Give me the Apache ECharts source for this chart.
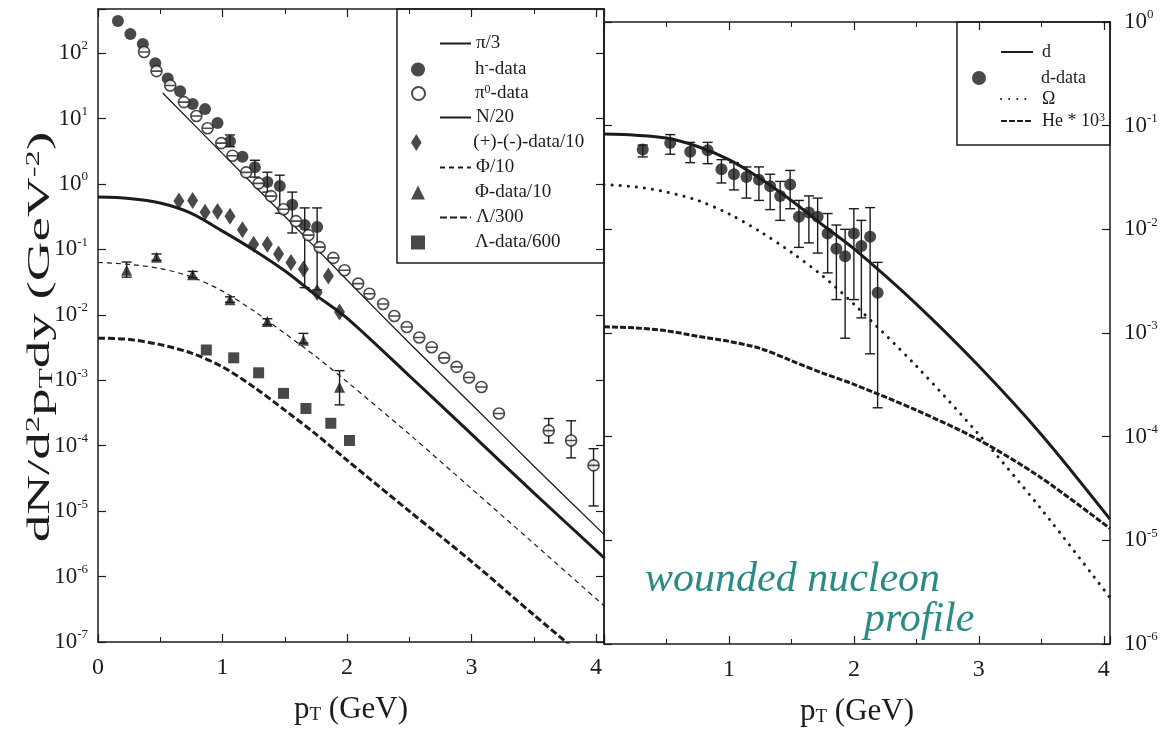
<!DOCTYPE html>
<html>
<head>
<meta charset="utf-8">
<title>pT spectra - wounded nucleon profile</title>
<script src="https://cdn.jsdelivr.net/npm/echarts@6/dist/echarts.min.js"></script>
<style>
    html, body { margin: 0; padding: 0; background: #fff; }
    #chart { width: 1163px; height: 732px; }
</style>
</head>
<body>
<div id="chart"></div>
<script>
// ---------------------------------------------------------------
//  Data: [pT (GeV), dN/d2pTdy]
// ---------------------------------------------------------------

// left panel, model curves
var piThirdCurve = [[0.52, 24.5], [1.0, 2.9], [1.5, 0.32], [2.0, 0.034], [2.5, 0.0037],
    [3.0, 4.3e-4], [3.5, 4.9e-5], [4.07, 4.3e-6]];
var nucleonCurve = [[0, 0.63], [0.25, 0.60], [0.5, 0.51], [0.75, 0.355], [1.0, 0.19], [1.25, 0.098],
    [1.5, 0.047], [1.75, 0.020], [2.0, 0.0089], [2.5, 0.00117], [3.0, 1.5e-4], [3.5, 1.9e-5], [4.07, 1.9e-6]];
var phiCurve = [[0, 0.063], [0.25, 0.059], [0.5, 0.051], [0.75, 0.038], [1.0, 0.023], [1.25, 0.0115],
    [1.5, 0.0052], [1.75, 0.0023], [2.0, 9.5e-4], [2.5, 1.5e-4], [3.0, 2.2e-5], [3.5, 3.2e-6], [4.07, 3.5e-7]];
var lambdaCurve = [[0, 0.0044], [0.25, 0.0042], [0.5, 0.0035], [0.75, 0.0026], [1.0, 0.0016], [1.25, 7.9e-4],
    [1.5, 3.5e-4], [1.75, 1.5e-4], [2.0, 6.0e-5], [2.5, 1.0e-5], [3.0, 1.7e-6], [3.5, 2.6e-7], [4.07, 3.2e-8]];

// left panel, measured points
var hMinusData = [[0.16, 310], [0.26, 195], [0.36, 137], [0.46, 70], [0.56, 41], [0.66, 26], [0.76, 16.6],
    [0.86, 13.9], [0.96, 8.5], [1.06, 4.5], [1.16, 2.6], [1.26, 1.8], [1.36, 1.07], [1.46, 0.93],
    [1.56, 0.48], [1.66, 0.235], [1.76, 0.22]];
var hMinusErrors = [[1.06, 3.7, 5.6], [1.26, 1.27, 2.3], [1.36, 0.75, 1.51], [1.46, 0.357, 1.36],
    [1.56, 0.178, 0.75], [1.66, 0.026, 0.43], [1.76, 0.024, 0.43]];
var piZeroData = [[0.37, 104], [0.47, 53], [0.58, 32], [0.69, 17.8], [0.79, 10.9], [0.88, 7.1], [0.99, 4.2],
    [1.08, 2.7], [1.19, 1.5], [1.29, 1.02], [1.39, 0.65], [1.49, 0.41], [1.59, 0.27], [1.69, 0.165],
    [1.78, 0.108], [1.89, 0.074], [1.98, 0.048], [2.09, 0.030], [2.18, 0.021], [2.29, 0.0146],
    [2.38, 0.0096], [2.48, 0.0065], [2.58, 0.0045], [2.68, 0.0032], [2.78, 0.0022], [2.88, 0.0016],
    [2.98, 0.0011], [3.08, 7.9e-4], [3.22, 3.1e-4], [3.62, 1.7e-4], [3.80, 1.2e-4], [3.98, 5e-5]];
var piZeroErrors = [[3.62, 1.1e-4, 2.6e-4], [3.80, 6.5e-5, 2.4e-4], [3.98, 1.2e-5, 9e-5]];
var chargeDiffData = [[0.65, 0.55], [0.76, 0.56], [0.86, 0.37], [0.96, 0.38], [1.06, 0.32], [1.16, 0.20],
    [1.25, 0.12], [1.36, 0.12], [1.45, 0.085], [1.55, 0.063], [1.65, 0.050], [1.76, 0.022],
    [1.85, 0.039], [1.94, 0.011]];
var phiData = [[0.23, 0.048], [0.47, 0.076], [0.76, 0.041], [1.06, 0.017], [1.36, 0.0079], [1.65, 0.0041],
    [1.94, 7.8e-4]];
var phiErrors = [[0.23, 0.0376, 0.064], [0.47, 0.068, 0.085], [0.76, 0.037, 0.046], [1.06, 0.0155, 0.0188],
    [1.36, 0.0071, 0.0087], [1.65, 0.0037, 0.0052], [1.94, 4.2e-4, 0.0014]];
var lambdaData = [[0.87, 0.0029], [1.09, 0.0022], [1.29, 0.0013], [1.49, 6.3e-4], [1.67, 3.7e-4],
    [1.87, 2.2e-4], [2.02, 1.2e-4]];

// right panel, model curves
var deuteronCurve = [[0, 0.083], [0.25, 0.081], [0.5, 0.076], [0.75, 0.063], [1.0, 0.047], [1.25, 0.031],
    [1.5, 0.019], [1.75, 0.011], [2.0, 0.0065], [2.5, 0.0019], [3.0, 4.8e-4], [3.5, 1.05e-4], [4.05, 1.6e-5]];
var omegaCurve = [[0, 0.027], [0.25, 0.0257], [0.5, 0.0229], [0.75, 0.019], [1.0, 0.0141], [1.25, 0.0095],
    [1.5, 0.006], [1.75, 0.00355], [2.0, 0.0019], [2.5, 4.8e-4], [3.0, 1.05e-4], [3.5, 2.0e-5], [4.05, 2.8e-6]];
var heliumCurve = [[0, 0.00115], [0.25, 0.00112], [0.5, 0.00105], [0.75, 9.3e-4], [1.0, 8.3e-4], [1.25, 7.1e-4],
    [1.5, 5.4e-4], [1.75, 4.1e-4], [2.0, 3.2e-4], [2.5, 1.8e-4], [3.0, 9.3e-5], [3.5, 4.0e-5], [4.05, 1.3e-5]];

// right panel, measured deuterons and their error bars [pT, low, high]
var deuteronData = [[0.31, 0.059], [0.53, 0.068], [0.69, 0.056], [0.83, 0.058], [0.94, 0.038], [1.04, 0.034],
    [1.14, 0.032], [1.24, 0.030], [1.33, 0.026], [1.41, 0.021], [1.49, 0.027], [1.56, 0.0132], [1.64, 0.0145],
    [1.71, 0.0132], [1.79, 0.0091], [1.86, 0.0065], [1.93, 0.0055], [2.0, 0.0091], [2.06, 0.0069],
    [2.13, 0.0085], [2.19, 0.00245]];
var deuteronErrors = [[0.31, 0.050, 0.065], [0.53, 0.053, 0.082], [0.69, 0.044, 0.069], [0.83, 0.043, 0.069],
    [0.94, 0.028, 0.047], [1.04, 0.024, 0.044], [1.14, 0.020, 0.040], [1.24, 0.019, 0.040], [1.33, 0.0155, 0.034],
    [1.41, 0.0122, 0.029], [1.49, 0.0158, 0.037], [1.56, 0.0067, 0.019], [1.64, 0.0074, 0.021],
    [1.71, 0.0059, 0.020], [1.79, 0.0038, 0.0142], [1.86, 0.0021, 0.0110], [1.93, 8.9e-4, 0.0100],
    [2.0, 0.0021, 0.0158], [2.06, 0.0014, 0.0122], [2.13, 6.3e-4, 0.0162], [2.19, 1.9e-4, 0.0048]];

// axis ranges
var leftXMax = 4.064, rightXMax = 4.05;
var leftYMin = 1e-7, leftYMax = 471;
var rightYMin = 1e-6, rightYMax = 1;

// ---------------------------------------------------------------
//  Styling helpers
// ---------------------------------------------------------------
var FONT = 'Liberation Serif';
var INK = '#1c1c1c';

var powRich = {
    b: { fontFamily: FONT, fontSize: 23, color: INK, lineHeight: 27 },
    s: { fontFamily: FONT, fontSize: 13, color: INK, lineHeight: 13, verticalAlign: 'top' }
};

function powerLabel(v) {
    var e = Math.log(v) / Math.LN10;
    var r = Math.round(e);
    if (Math.abs(e - r) > 1e-6) {
        return '';
    }
    return '{b|10}{s|' + r + '}';
}

function intLabel(skipZero) {
    return function (v) {
        if (Math.abs(v - Math.round(v)) > 1e-9) return '';
        if (skipZero && v === 0) return '';
        return String(Math.round(v));
    };
}

function xAxisDef(grid, pos, max, withLabels, skipZero) {
    return {
        type: 'value', gridIndex: grid, position: pos, min: 0, max: max, interval: 1,
        axisLine: { show: true, onZero: false, lineStyle: { color: INK, width: 1.5 } },
        axisTick: { show: true, inside: true, length: 8, lineStyle: { color: INK, width: 1.2 } },
        minorTick: { show: true, splitNumber: 2, length: 5, lineStyle: { color: INK, width: 1 } },
        axisLabel: {
            show: withLabels, margin: 14, formatter: intLabel(skipZero),
            fontFamily: FONT, fontSize: 24, color: INK
        },
        splitLine: { show: false },
        name: withLabels ? 'p{sub|T} (GeV)' : '',
        nameLocation: 'middle', nameGap: 52,
        nameTextStyle: {
            fontFamily: FONT, fontSize: 31, color: INK,
            rich: {
                sub: { fontFamily: FONT, fontSize: 19, color: INK, verticalAlign: 'bottom', lineHeight: 19 }
            }
        }
    };
}

function yAxisDef(grid, pos, min, max, withLabels, margin) {
    return {
        type: 'log', gridIndex: grid, position: pos, min: min, max: max, logBase: 10, splitNumber: 10,
        axisLine: { show: true, onZero: false, lineStyle: { color: INK, width: 1.5 } },
        axisTick: { show: true, inside: true, length: 8, lineStyle: { color: INK, width: 1.2 } },
        axisLabel: { show: withLabels, margin: margin, formatter: powerLabel, rich: powRich },
        splitLine: { show: false }
    };
}

function lineSeries(name, data, xi, yi, width, dash, cap) {
    return {
        name: name, type: 'line', xAxisIndex: xi, yAxisIndex: yi, data: data,
        smooth: 0.3, symbol: 'none', showSymbol: false, z: 3,
        lineStyle: { color: INK, width: width, type: dash, cap: cap || 'butt' },
        itemStyle: { color: INK }
    };
}

function scatterSeries(name, data, xi, yi, symbol, size, hollow) {
    return {
        name: name, type: 'scatter', xAxisIndex: xi, yAxisIndex: yi, data: data,
        symbol: symbol, symbolSize: size, z: 4,
        itemStyle: hollow ? { color: '#fff', borderColor: INK, borderWidth: 1.6 } : { color: INK }
    };
}

function errorBarSeries(data, xi, yi, cap) {
    return {
        type: 'custom', xAxisIndex: xi, yAxisIndex: yi, data: data, z: 2,
        encode: { x: 0, y: [1, 2] },
        renderItem: function (params, api) {
            var lo = api.coord([api.value(0), api.value(1)]);
            var hi = api.coord([api.value(0), api.value(2)]);
            var st = { stroke: INK, lineWidth: 1.4 };
            return {
                type: 'group',
                children: [
                    { type: 'line', shape: { x1: lo[0], y1: lo[1], x2: hi[0], y2: hi[1] }, style: st },
                    { type: 'line', shape: { x1: lo[0] - cap, y1: lo[1], x2: lo[0] + cap, y2: lo[1] }, style: st },
                    { type: 'line', shape: { x1: hi[0] - cap, y1: hi[1], x2: hi[0] + cap, y2: hi[1] }, style: st }
                ]
            };
        }
    };
}

// ---------------------------------------------------------------
//  Legends (one component per row so the rows can sit freely)
// ---------------------------------------------------------------
function legendLabel(name) {
    if (name === 'h-data') return 'h{sup|-}-data';
    if (name === 'pi0-data') return 'π{sup|0}-data';
    if (name === 'He') return 'He * 10{sup|3}';
    return name;
}

// [series name, kind, top]
var leftLegendRows = [
    ['π/3', 'line', 34], ['h-data', 'mark', 60], ['pi0-data', 'mark', 84], ['N/20', 'line', 108],
    ['(+)-(-)-data/10', 'mark', 133], ['Φ/10', 'line', 158], ['Φ-data/10', 'mark', 183],
    ['Λ/300', 'line', 208], ['Λ-data/600', 'mark', 233]
];
var rightLegendRows = [
    ['d', 'line', 43], ['d-data', 'mark', 69], ['Ω', 'line', 90], ['He', 'line', 112]
];

// lineLeft/lineWidth: where the line icon sits; markCenter: x of the marker; textX: where text starts
function buildLegends(rows, lineLeft, lineWidth, markCenter, textX, fontSize) {
    return rows.map(function (row) {
        var isLine = row[1] === 'line';
        var markSize = row[0].indexOf('(+)') === 0 ? 17 : 14;
        var gap = isLine ? textX - (lineLeft + lineWidth + 5) : textX - (markCenter + 7 + 5);
        var leg = {
            data: [row[0]], top: row[2],
            left: isLine ? lineLeft : markCenter - 7,
            itemWidth: isLine ? lineWidth : 14,
            itemHeight: isLine ? 14 : markSize,
            selectedMode: false, padding: 0,
            itemStyle: isLine ? { opacity: 0 } : {},
            formatter: function (name) {
                return '{gap| }' + legendLabel(name);
            },
            textStyle: {
                fontFamily: FONT, fontSize: fontSize, color: INK,
                rich: {
                    gap: { width: gap, fontSize: fontSize },
                    sup: { fontFamily: FONT, fontSize: 12, color: INK, verticalAlign: 'top', lineHeight: 12 }
                }
            }
        };
        if (row[0] === 'pi0-data') {
            leg.icon = 'circle';
            leg.itemHeight = 13;
            leg.itemWidth = 13;
        }
        return leg;
    });
}

var legends = buildLegends(leftLegendRows, 439, 31, 418, 475, 19)
    .concat(buildLegends(rightLegendRows, 1000, 32, 979, 1041, 18));

// ---------------------------------------------------------------
//  Chart
// ---------------------------------------------------------------
var chart = echarts.init(document.getElementById('chart'));

var diamondPath = 'path://M5 0L10 8L5 16L0 8Z';
// open circle crossed by its horizontal bin bar
var barredCirclePath = 'path://M0 5A5 5 0 1 0 10 5A5 5 0 1 0 0 5ZM0 5L10 5';

var option = {
    backgroundColor: '#fff',
    animation: false,
    legend: legends,
    grid: [
        { left: 98, top: 9, width: 506, height: 633 },
        { left: 604, top: 22, width: 506, height: 632 }
    ],
    xAxis: [
        xAxisDef(0, 'bottom', leftXMax, true, false),
        xAxisDef(0, 'top', leftXMax, false, false),
        xAxisDef(1, 'bottom', rightXMax, true, true),
        xAxisDef(1, 'top', rightXMax, false, true)
    ],
    yAxis: [
        yAxisDef(0, 'left', leftYMin, leftYMax, true, 10),
        yAxisDef(0, 'right', leftYMin, leftYMax, false, 10),
        yAxisDef(1, 'right', rightYMin, rightYMax, true, 14),
        yAxisDef(1, 'left', rightYMin, rightYMax, false, 10)
    ],
    graphic: [
        // legend frames
        { type: 'rect', shape: { x: 397, y: 9, width: 207, height: 254 },
          style: { fill: 'none', stroke: INK, lineWidth: 1.5 }, z: 10 },
        { type: 'rect', shape: { x: 957, y: 22, width: 153, height: 123 },
          style: { fill: 'none', stroke: INK, lineWidth: 1.5 }, z: 10 },
        // y axis title
        { type: 'text', x: 41, y: 337, rotation: Math.PI / 2, scaleX: 1.72, z: 10,
          style: {
              text: 'dN/d{sup|2}p{sub|T}dy (GeV{sup|-2})',
              fontFamily: FONT, fontSize: 32, fill: INK, align: 'center', verticalAlign: 'middle',
              rich: {
                  sup: { fontFamily: FONT, fontSize: 19, fill: INK, verticalAlign: 'top', lineHeight: 19 },
                  sub: { fontFamily: FONT, fontSize: 19, fill: INK, verticalAlign: 'bottom', lineHeight: 19 }
              }
          } },
        // handwritten note
        { type: 'text', x: 645, y: 580, z: 10,
          style: { text: 'wounded nucleon', fontFamily: FONT, fontStyle: 'italic', fontSize: 42,
                   fill: '#2a8a85', verticalAlign: 'middle' } },
        { type: 'text', x: 864, y: 620, z: 10,
          style: { text: 'profile', fontFamily: FONT, fontStyle: 'italic', fontSize: 42,
                   fill: '#2a8a85', verticalAlign: 'middle' } }
    ],
    series: [
        lineSeries('π/3', piThirdCurve, 0, 0, 1.3, 'solid'),
        scatterSeries('h-data', hMinusData, 0, 0, 'circle', 12, false),
        scatterSeries('pi0-data', piZeroData, 0, 0, barredCirclePath, 11, true),
        lineSeries('N/20', nucleonCurve, 0, 0, 3, 'solid'),
        scatterSeries('(+)-(-)-data/10', chargeDiffData, 0, 0, diamondPath, [11, 17], false),
        lineSeries('Φ/10', phiCurve, 0, 0, 1.2, [5, 4]),
        scatterSeries('Φ-data/10', phiData, 0, 0, 'triangle', 11, false),
        lineSeries('Λ/300', lambdaCurve, 0, 0, 3, [7, 3]),
        scatterSeries('Λ-data/600', lambdaData, 0, 0, 'rect', 11, false),
        errorBarSeries(hMinusErrors, 0, 0, 5),
        errorBarSeries(piZeroErrors, 0, 0, 5),
        errorBarSeries(phiErrors, 0, 0, 5),

        lineSeries('d', deuteronCurve, 2, 2, 3, 'solid'),
        scatterSeries('d-data', deuteronData, 2, 2, 'circle', 12, false),
        lineSeries('Ω', omegaCurve, 2, 2, 3, [0.1, 8], 'round'),
        lineSeries('He', heliumCurve, 2, 2, 3, [6, 2]),
        errorBarSeries(deuteronErrors, 2, 2, 5)
    ]
};

chart.setOption(option);

window.onresize = function () {
    chart.resize();
};
</script>
</body>
</html>
